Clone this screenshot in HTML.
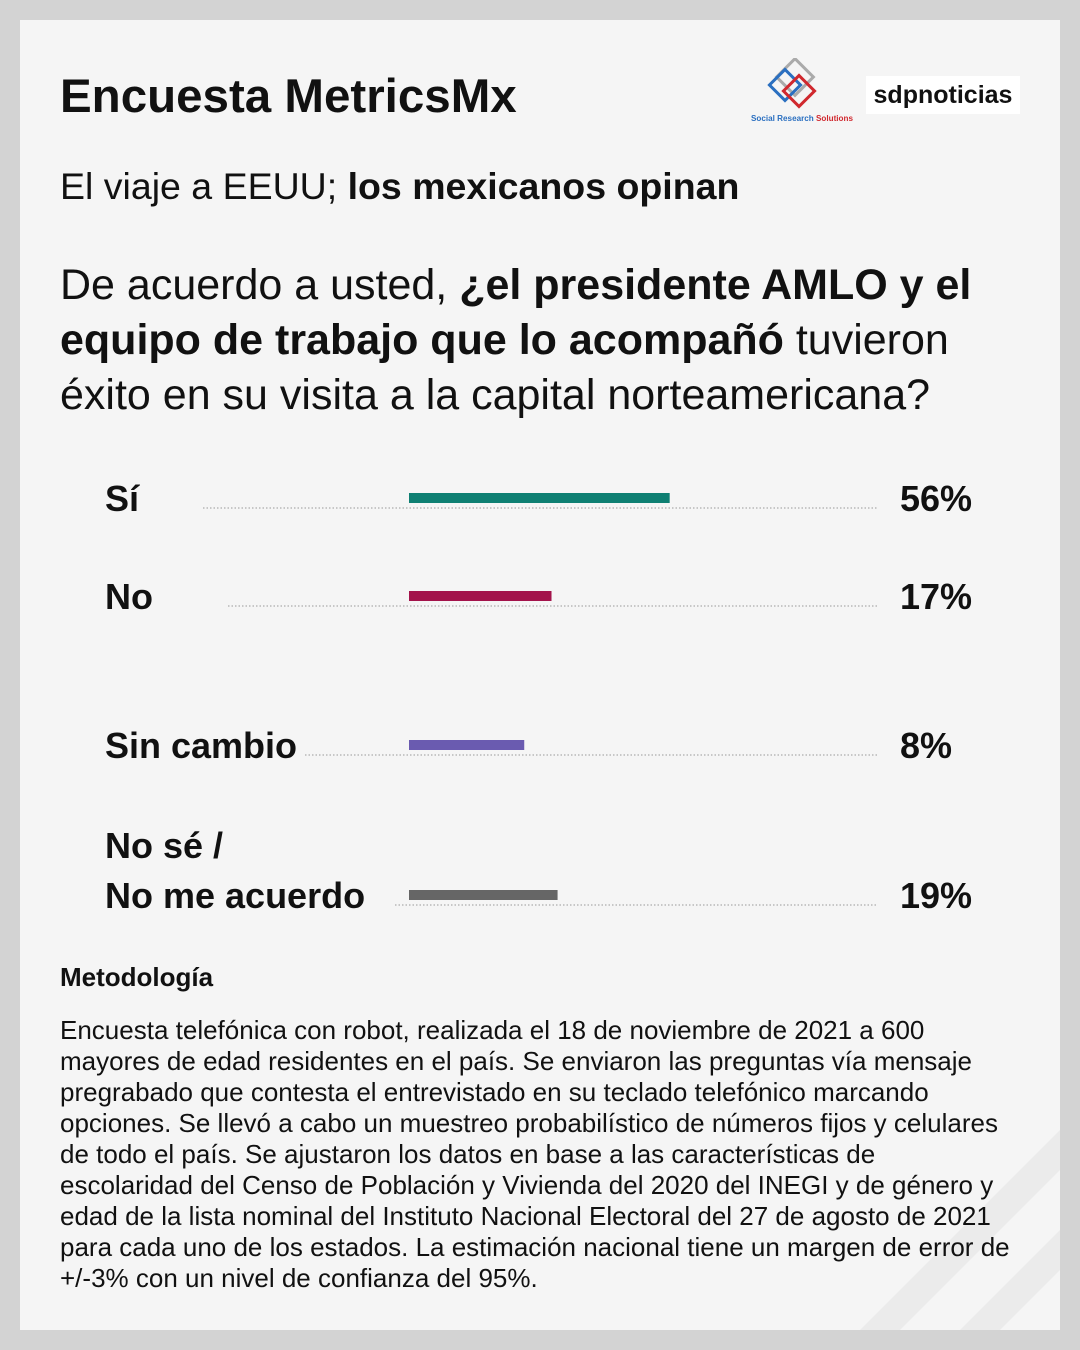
<!DOCTYPE html>
<html><head><meta charset="utf-8"><style>
body{margin:0;width:1080px;height:1350px;background:#d3d3d3;font-family:"Liberation Sans",Arial,sans-serif;color:#111;position:relative;overflow:hidden}
#card{position:absolute;left:20px;top:20px;width:1040px;height:1310px;background:#f5f5f5;overflow:hidden}
.abs{position:absolute;margin:0;white-space:nowrap}
</style></head><body>
<div id="card">
<svg class="abs" style="left:0;top:0" width="1040" height="1310"><polygon points="840,1310 1040,1110 1040,1150 880,1310" fill="#ebebeb"/><polygon points="940,1310 1040,1210 1040,1250 980,1310" fill="#ebebeb"/></svg>
<h1 class="abs" style="left:40px;top:49px;font-size:47.5px;font-weight:bold">Encuesta MetricsMx</h1>
<div class="abs" style="left:730px;top:38px">
<svg width="106" height="66"><g fill="none" stroke-width="3"><rect x="32" y="6" width="26" height="26" transform="rotate(45 45 19)" stroke="#aaa"/><rect x="24" y="16" width="22" height="22" transform="rotate(45 35 27)" stroke="#2a6fc0"/><rect x="38" y="22" width="22" height="22" transform="rotate(45 49 33)" stroke="#d0282e"/></g>
<text x="1" y="63" font-size="8" font-weight="bold" fill="#2a6fc0" textLength="102" lengthAdjust="spacingAndGlyphs">Social Research <tspan fill="#d0282e">Solutions</tspan></text></svg></div>
<div class="abs" style="left:846px;top:56px;width:154px;height:38px;background:#fff;font-size:25px;font-weight:bold;line-height:38px;text-align:center">sdpnoticias</div>
<p class="abs" style="left:40px;top:145px;font-size:37.5px">El viaje a EEUU; <b>los mexicanos opinan</b></p>
<p class="abs" style="left:40px;top:238px;font-size:43px;line-height:55px">De acuerdo a usted, <b>¿el presidente AMLO y el</b><br><b>equipo de trabajo que lo acompañó</b> tuvieron<br>éxito en su visita a la capital norteamericana?</p>
<svg id="chart" class="abs" style="left:0;top:0" width="1040" height="920"></svg>
<p class="abs" style="left:40px;top:942px;font-size:26px;font-weight:bold">Metodología</p>
<p class="abs" style="left:40px;top:995px;font-size:26px;line-height:31px">Encuesta telefónica con robot, realizada el 18 de noviembre de 2021 a 600<br>mayores de edad residentes en el país. Se enviaron las preguntas vía mensaje<br>pregrabado que contesta el entrevistado en su teclado telefónico marcando<br>opciones. Se llevó a cabo un muestreo probabilístico de números fijos y celulares<br>de todo el país. Se ajustaron los datos en base a las características de<br>escolaridad del Censo de Población y Vivienda del 2020 del INEGI y de género y<br>edad de la lista nominal del Instituto Nacional Electoral del 27 de agosto de 2021<br>para cada uno de los estados. La estimación nacional tiene un margen de error de<br>+/-3% con un nivel de confianza del 95%.</p>
</div>
<script>
const categories=[["Sí"],["No"],["Sin cambio"],["No sé /","No me acuerdo"]];
const values=[56,17,8,19];
const valueLabels=["56%","17%","8%","19%"];
const colors=["#0e7f72","#a3134b","#6a5bb0","#666666"];
const rowY=[478,576,725,875];
const lineStart=[183,208,285,375];
const ns="http://www.w3.org/2000/svg";
const svg=document.getElementById('chart');
const x0=389;
function w(v){return 91+3.03*v;}
function mk(t,a){const e=document.createElementNS(ns,t);for(const k in a)e.setAttribute(k,a[k]);svg.appendChild(e);return e;}
values.forEach((v,i)=>{
 const y=rowY[i];
 const dl=mk('line',{x1:lineStart[i],x2:858,y1:y+10,y2:y+10,stroke:'#999','stroke-width':1,'stroke-dasharray':'1.5,2'});
 
 
 const r=mk('rect',{x:x0,y:y-5,width:w(v),height:10,fill:colors[i]});
 
 
 const lines=categories[i];
 lines.forEach((s,j)=>{
  const t=mk('text',{x:85,y:y+13-(lines.length-1-j)*50,'font-size':36,'font-weight':'bold','font-family':'Liberation Sans, Arial, sans-serif',fill:'#111'});
  t.textContent=s;
  
  
 });
 const vt=mk('text',{x:880,y:y+13,'font-size':36,'font-weight':'bold','font-family':'Liberation Sans, Arial, sans-serif',fill:'#111'});
 vt.textContent=valueLabels[i];
 
 
});
</script>
</body></html>
